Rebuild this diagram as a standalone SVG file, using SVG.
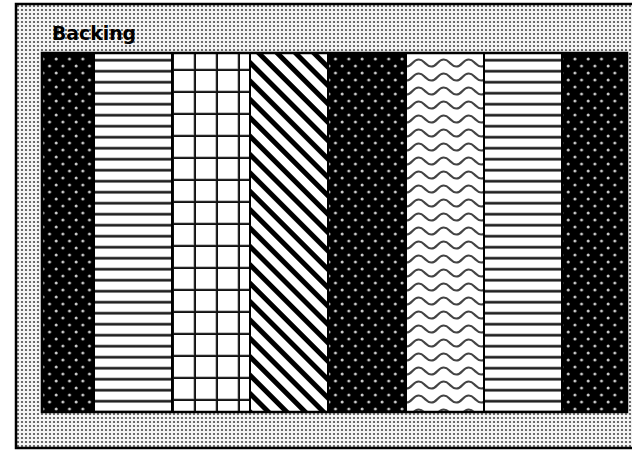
<svg xmlns="http://www.w3.org/2000/svg" width="632" height="450" viewBox="0 0 632 450">
  <style>
    .sep { stroke: #000; stroke-width: 2; }
    .frame { fill: none; stroke: #000; stroke-width: 2.5; }
    .title { font-family: "DejaVu Sans", "Liberation Sans", sans-serif; font-weight: bold; font-size: 19px; fill: #000; }
  </style>
  <defs>
    <pattern id="pBacking" patternUnits="userSpaceOnUse" x="0" y="0" width="4" height="4">
      <rect width="4" height="4" fill="#f4f4f4"/>
      <circle cx="2" cy="2" r="1.1" fill="#4a4a4a"/>
    </pattern>
    <pattern id="pDots" patternUnits="userSpaceOnUse" x="0" y="0" width="13.3" height="14">
      <rect width="13.3" height="14" fill="#000"/>
      <circle cx="3" cy="3" r="1.5" fill="#ccc"/>
      <circle cx="9.65" cy="10" r="1.5" fill="#ccc"/>
    </pattern>
    <pattern id="pHLines" patternUnits="userSpaceOnUse" x="0" y="0" width="20" height="11">
      <rect width="20" height="11" fill="#fff"/>
      <rect y="3.5" width="20" height="3.5" fill="#999"/>
      <rect y="4.2" width="20" height="2" fill="#222"/>
    </pattern>
    <pattern id="pGrid" patternUnits="userSpaceOnUse" x="174" y="49" width="22" height="22">
      <rect width="22" height="22" fill="#fff"/>
      <rect x="19.5" width="4" height="22" fill="#888"/>
      <rect y="19.5" width="22" height="4" fill="#888"/>
      <rect x="20.2" width="2.6" height="22" fill="#111"/>
      <rect y="20.2" width="22" height="2.6" fill="#111"/>
    </pattern>
    <pattern id="pDiag" patternUnits="userSpaceOnUse" x="0" y="0" width="13" height="10" patternTransform="rotate(-45)">
      <rect width="13" height="10" fill="#fff"/>
      <rect x="0" width="5" height="10" fill="#000"/>
    </pattern>
    <pattern id="pWave" patternUnits="userSpaceOnUse" x="0" y="0" width="25" height="14">
      <rect width="25" height="14" fill="#fff"/>
      <path d="M-12.5 7 Q-6.25 0 0 7 Q6.25 14 12.5 7 Q18.75 0 25 7 Q31.25 14 37.5 7" fill="none" stroke="#444" stroke-width="2.2"/>
    </pattern>
    <clipPath id="innerClip">
      <rect x="42" y="53" width="585" height="359"/>
    </clipPath>
  </defs>

  <g id="backing">
    <rect x="16" y="4" width="620" height="444" fill="url(#pBacking)"/>
    <rect x="16" y="4" width="620" height="444" class="frame"/>
    <text class="title" x="52" y="40" textLength="84" lengthAdjust="spacingAndGlyphs">Backing</text>
  </g>

  <g id="strips" clip-path="url(#innerClip)">
    <rect id="strip1" x="16" y="53" width="78" height="359" fill="url(#pDots)"/>
    <rect id="strip2" x="94" y="53" width="78" height="359" fill="url(#pHLines)"/>
    <rect id="strip3" x="172" y="53" width="78" height="359" fill="url(#pGrid)"/>
    <rect id="strip4" x="250" y="53" width="78" height="359" fill="url(#pDiag)"/>
    <rect id="strip5" x="328" y="53" width="78" height="359" fill="url(#pDots)"/>
    <rect id="strip6" x="406" y="53" width="78" height="359" fill="url(#pWave)"/>
    <rect id="strip7" x="484" y="53" width="78" height="359" fill="url(#pHLines)"/>
    <rect id="strip8" x="562" y="53" width="78" height="359" fill="url(#pDots)"/>
  </g>

  <g id="separators">
    <line class="sep" x1="94" y1="53" x2="94" y2="412"/>
    <line class="sep" x1="172" y1="53" x2="172" y2="412"/>
    <line class="sep" x1="250" y1="53" x2="250" y2="412"/>
    <line class="sep" x1="328" y1="53" x2="328" y2="412"/>
    <line class="sep" x1="406" y1="53" x2="406" y2="412"/>
    <line class="sep" x1="484" y1="53" x2="484" y2="412"/>
    <line class="sep" x1="562" y1="53" x2="562" y2="412"/>
  </g>

  <g id="inner-frame">
    <rect x="42" y="53" width="585" height="359" class="frame"/>
  </g>
</svg>
